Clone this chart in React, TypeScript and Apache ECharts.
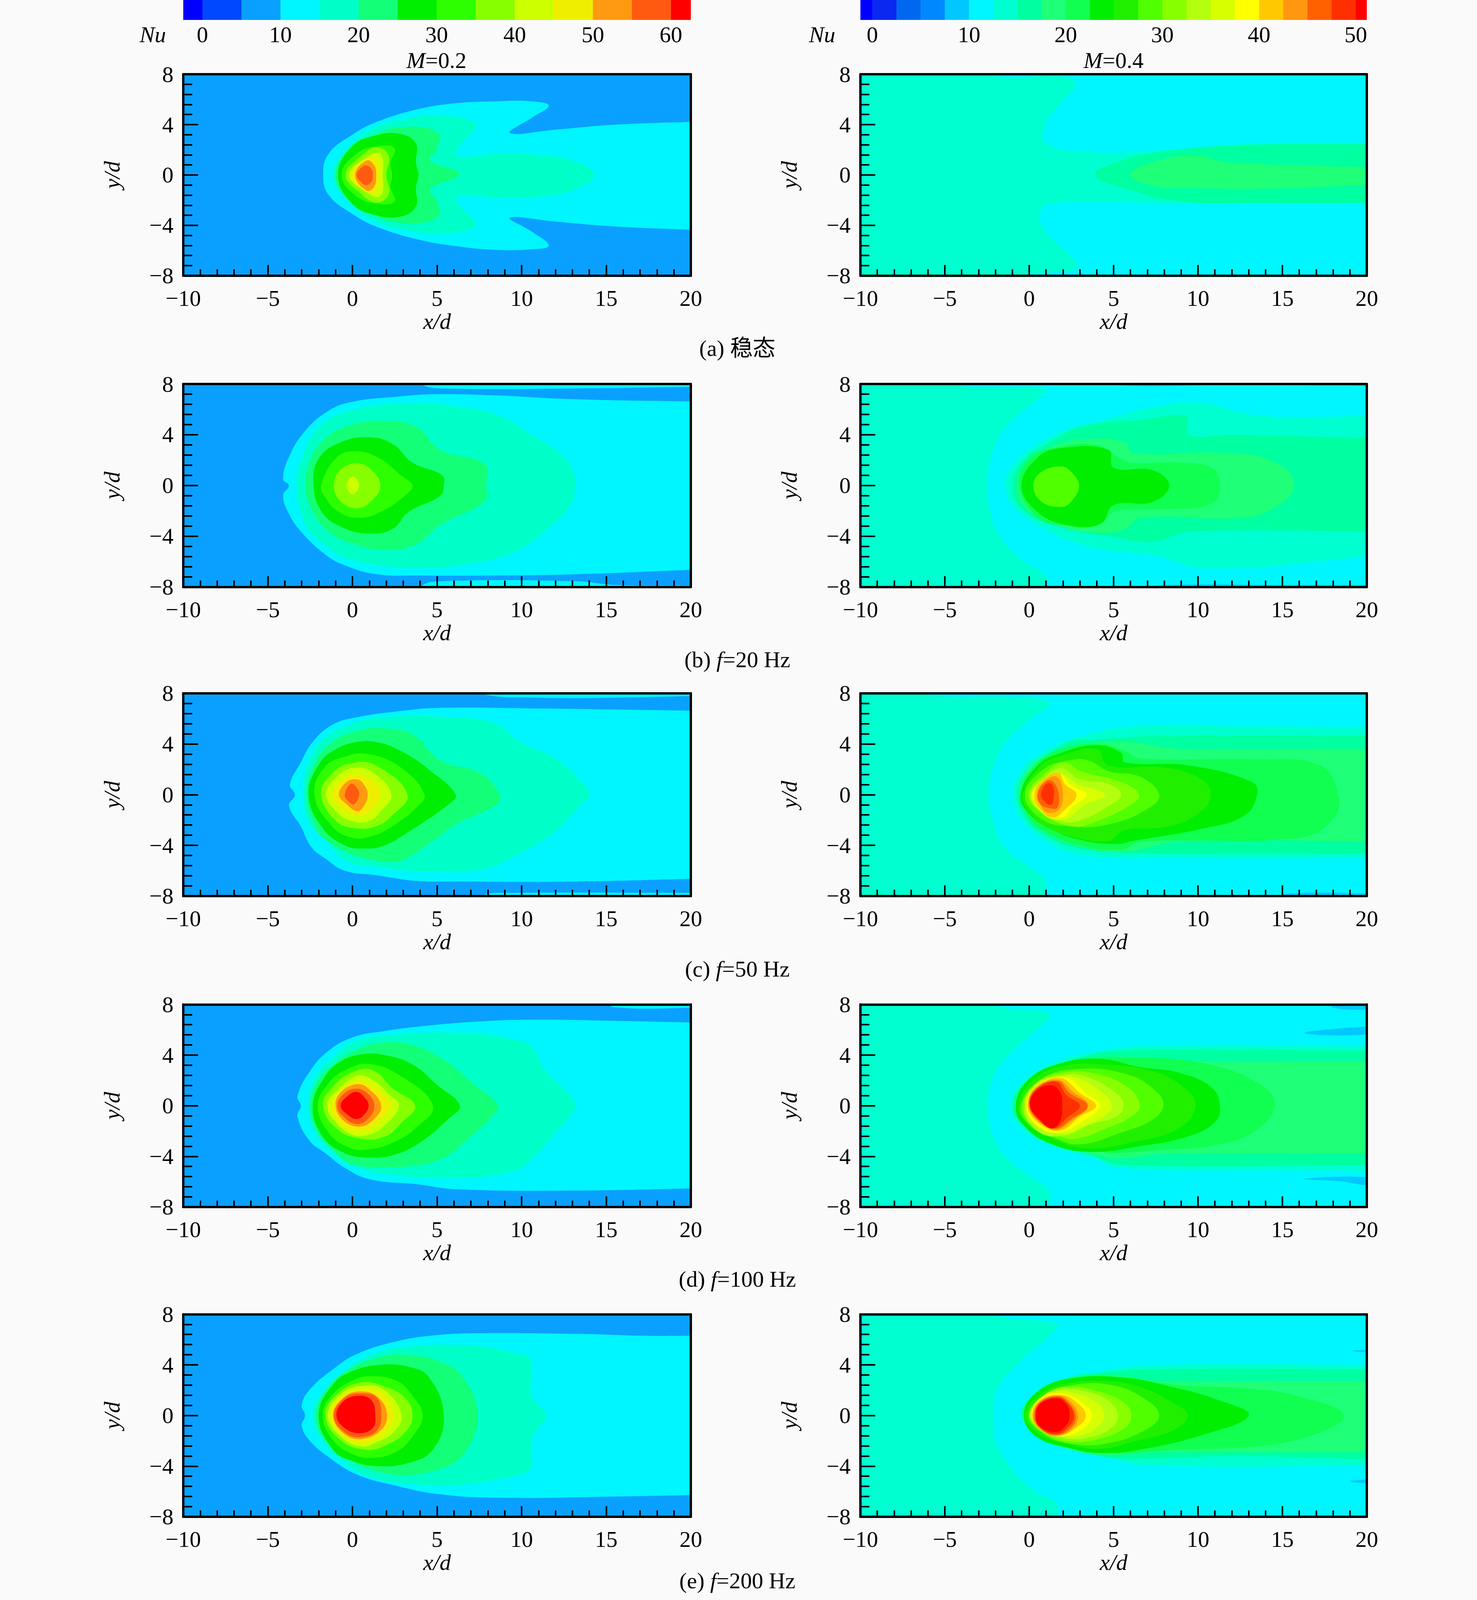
import React, { useEffect, useRef } from "react";
import * as echarts from "echarts";

type Pt = [number, number];
type Layer = [number, Pt[]];

const X_TICK_RANGE: Pt = [-10, 20];
const Y_TICK_RANGE: Pt = [-8, 8];

// Colour bars: level edges and the colour of each band
const EDGES_L = [-2.45, 0, 5, 10, 15, 20, 25, 30, 35, 40, 45, 50, 55, 60, 62.55];
const COLORS_L = ["#0000ff", "#0048ff", "#0aa0ff", "#00f6ff", "#00ffc8", "#14ff78", "#00ee00", "#2dff00", "#88ff00", "#ccff00", "#f0ee00", "#ff9a10", "#ff5a10", "#ff0000"];
const TICKS_L = [0, 10, 20, 30, 40, 50, 60];
const EDGES_R = [-1.23, 0, 2.5, 5, 7.5, 10, 12.5, 15, 17.5, 20, 22.5, 25, 27.5, 30, 32.5, 35, 37.5, 40, 42.5, 45, 47.5, 50, 51.14];
const COLORS_R = ["#0000ff", "#0a28f0", "#0068f0", "#0088ff", "#00c8ff", "#00f6ff", "#00ffd0", "#00ffa0", "#20ff78", "#10ff50", "#00ee00", "#20f000", "#50ff00", "#88ff00", "#b4ff10", "#d8ff00", "#ffff00", "#ffc800", "#ff9810", "#ff6000", "#ff3000", "#ff0000"];
const TICKS_R = [0, 10, 20, 30, 40, 50];

const R: Pt[] = [[-11, -9], [21, -9], [21, 9], [-11, 9]];

// Contour outlines, in (x/d, y/d); first number = lower Nu of the band
const a1: Layer[] = [
  [5, R],
  [10, [[-1.73, 0], [-1.4, 1.7], [0, 3.2], [1.4, 4.2], [3.8, 5.2], [6.1, 5.7], [8.5, 5.85], [10.6, 5.85], [11.6, 5.5], [10.6, 4.55], [9.3, 3.33], [12, 3.6], [15.6, 4], [21, 4.25], [21, -4.4], [15.6, -4.1], [12, -3.7], [9.3, -3.4], [10.6, -4.5], [11.6, -5.6], [10.6, -5.9], [8.5, -5.95], [6.1, -5.65], [3.8, -5.1], [1.4, -4.1], [0, -3.1], [-1.4, -1.6]]],
  [15, [[-1.15, 0], [0, 2.5], [1.4, 3.8], [3.3, 4.5], [5.2, 4.75], [7.2, 4.2], [7.2, 3.6], [6.3, 2.3], [6.2, 1.5], [8.5, 1.7], [10.9, 1.6], [13, 1.15], [14.3, 0], [13, -1.2], [10.9, -1.75], [8.5, -1.8], [6.2, -1.65], [6.3, -2.4], [7.2, -3.6], [7.2, -4.2], [5.2, -4.7], [3.3, -4.4], [1.4, -3.7], [0, -2.4]]],
  [20, [[-1, 0], [-0.2, 2.1], [1, 3.05], [2.9, 3.8], [5, 3.4], [5, 2.1], [4.6, 1.15], [6.3, 0.1], [4.6, -1.15], [5, -2.1], [5, -3.4], [2.9, -3.8], [1, -3.05], [-0.2, -2.1]]],
  [25, [[-0.85, 0], [0, 2.3], [1.4, 3.15], [2.85, 3.25], [3.75, 2.5], [3.75, 1], [3.9, 0], [3.75, -1], [3.75, -2.5], [2.85, -3.3], [1.4, -3.2], [0, -2.3]]],
  [30, [[-0.65, 0], [0.25, 1.7], [1.55, 2.3], [2.5, 2.1], [2.25, 0.95], [2.35, 0], [2.25, -0.95], [2.5, -2.1], [1.55, -2.3], [0.25, -1.7]]],
  [35, [[-0.4, 0], [0.5, 1.5], [1.45, 2.2], [2.15, 1.5], [2, 0], [2.15, -1.5], [1.45, -2.2], [0.5, -1.5]]],
  [40, [[-0.2, 0], [0.75, 1.3], [1.65, 1.7], [1.8, 0], [1.65, -1.7], [0.75, -1.3]]],
  [45, [[-0.05, 0], [0.6, 1.15], [1.3, 1.4], [1.6, 0], [1.3, -1.4], [0.6, -1.15]]],
  [50, [[0.15, 0], [0.85, 1.15], [1.3, 0.75], [1.4, 0], [1.3, -0.9], [0.85, -1.25]]],
  [55, [[0.25, 0], [0.5, 0.55], [0.85, 0.75], [1.15, 0.4], [1.2, 0], [1.15, -0.45], [0.85, -0.8], [0.5, -0.55]]],
];
const a2: Layer[] = [
  [12.5, R],
  [10, [[-2, 8.5], [-2, 7.85], [2, 7.85], [2.75, 7.25], [1.75, 5.55], [0.95, 4], [1, 2.5], [3.75, 1.8], [8.3, 2], [13.5, 2.5], [21, 2.55], [21, 8.5]]],
  [10, [[21, -2.27], [9.3, -2.27], [1.25, -2.27], [0.6, -3.2], [1, -4.55], [2.75, -6.85], [2.75, -7.5], [0, -7.9], [-1, -8.5], [21, -8.5]]],
  [15, [[3.9, 0], [5.5, 1.15], [8.4, 1.95], [13.5, 2.4], [21, 2.45], [21, -2.2], [14, -2.2], [9, -2.1], [6, -1.2]]],
  [17.5, [[6, 0], [7.3, 1], [9.8, 1.55], [11.8, 1], [21, 0.6], [21, -0.75], [13.2, -1.1], [9.3, -1], [7.5, -0.9]]],
];
const b1: Layer[] = [
  [5, R],
  [10, [[4.1, 7.95], [5.4, 7.65], [13.2, 7.65], [21, 7.8], [21, 8.5], [4.1, 8.5]]],
  [10, [[4.1, -7.9], [5.2, -7.55], [13.2, -7.55], [15.6, -7.85], [21, -7.9], [21, -8.5], [4.1, -8.5]]],
  [10, [[-3.75, 0], [-4.1, 0.5], [-3.75, 2.25], [-2.8, 4.3], [-1.4, 5.9], [0, 6.6], [2.6, 7], [5, 7.2], [8.5, 7.1], [13.2, 6.8], [21, 6.6], [21, -6.6], [13.2, -7], [8.5, -7.1], [3.8, -7.1], [1.4, -7], [-0.45, -6.3], [-1.6, -5.45], [-3, -3.7], [-3.75, -2.25], [-4.1, -0.8]]],
  [15, [[-3.3, 0], [-3, 2.1], [-1.9, 4.7], [0, 5.95], [3.1, 6.5], [6.15, 6.25], [8.75, 5.45], [10.4, 4.15], [12.5, 2.25], [13.15, 0.65], [13.15, 0], [13, -1.25], [12, -2.85], [9.45, -5.3], [6.15, -6.3], [3.8, -6.5], [0, -5.9], [-1.9, -4.4], [-2.8, -3]]],
  [20, [[-2.75, 0], [-2.55, 1.8], [-1.6, 3.7], [0, 4.8], [1.9, 5.1], [3.8, 4.6], [5.2, 2.8], [7.8, 1.7], [7.9, 0], [7.8, -1.25], [5.2, -3.1], [3.8, -4.6], [2.15, -5.1], [0, -4.6], [-1.6, -3.4], [-2.55, -1.5]]],
  [25, [[-2.3, 0], [-2, 2.1], [-0.7, 3.4], [1, 3.8], [2.4, 3.25], [3.55, 1.8], [5.3, 0.8], [5.4, 0], [5.2, -0.8], [3.3, -2.1], [2.4, -3.4], [1, -3.8], [-0.7, -3.25], [-1.85, -2]]],
  [30, [[-1.85, 0], [-0.9, 2.25], [0.25, 2.7], [1.65, 2.1], [2.85, 0.8], [3.55, 0], [3.1, -0.8], [1.65, -2.1], [0.25, -2.55], [-0.9, -2], [-1.6, -0.95]]],
  [35, [[-1.1, 0], [-0.7, 1.25], [0.25, 1.75], [1.1, 1.25], [1.65, 0], [1.1, -1.25], [0.25, -1.8], [-0.7, -1.25]]],
  [40, [[-0.35, 0], [0, 0.7], [0.4, 0], [0, -0.7]]],
];
const b2: Layer[] = [
  [12.5, R],
  [10, [[-4.25, 8.5], [-4.25, 7.9], [1, 7.6], [0.7, 7.05], [-0.5, 5.75], [-1.8, 3.85], [-2.35, 1.65], [-2.5, 0], [-2.35, -1.85], [-1.8, -3.9], [-0.5, -5.8], [1, -7.2], [1, -8.5], [21, -8.5], [21, 8.5]]],
  [7.5, [[5, 8.5], [5, 7.92], [12, 7.92], [21, 7.85], [21, 8.5]]],
  [7.5, [[7, -8.5], [7, -7.93], [16, -7.85], [21, -7.85], [21, -8.5]]],
  [12.5, [[-1.4, 0], [-0.95, 1.65], [0.5, 3.25], [2.35, 4.45], [4.25, 5.1], [7.1, 6.1], [9.9, 6.55], [13.7, 5.5], [21, 5.5], [21, -5.5], [10.6, -6.55], [7.3, -5.5], [4.25, -5.05], [2.35, -4.3], [0.5, -3.15], [-0.95, -1.55]]],
  [15, [[-1, 0], [-0.45, 1.8], [1.4, 3.55], [3.3, 4.7], [6.6, 5.15], [9.3, 5.45], [9.45, 4], [12, 4], [21, 3.7], [21, -3.65], [9.45, -3.65], [7.3, -4.45], [4.7, -4], [1.9, -3.3], [-0.45, -1.85]]],
  [17.5, [[-0.7, 0], [-0.25, 1.65], [1.4, 3.1], [3.8, 3.7], [5.65, 3.4], [6.15, 2.55], [11.8, 2.55], [14.6, 1.8], [15.7, 0], [14.4, -1.85], [12.5, -2.55], [6.6, -2.55], [5.65, -3.45], [3.8, -3.7], [1.4, -3], [-0.25, -1.7]]],
  [20, [[-0.6, 0], [0, 2.1], [1.6, 3], [4, 3.2], [5.2, 2.3], [6, 1.8], [9, 1.8], [10.85, 1.35], [11.3, 0], [10.85, -1.4], [8.5, -1.85], [5.9, -1.85], [5, -2.1], [4, -3.2], [2.1, -3.15], [0.5, -2.55]]],
  [22.5, [[-0.45, 0], [0.5, 2.2], [1.9, 2.95], [4.7, 2.8], [5, 1.4], [7.3, 1.2], [8.3, 0], [7.3, -1.3], [5, -1.55], [4.25, -3], [2.35, -3.15], [0.5, -2.1]]],
  [27.5, [[0.25, 0], [0.7, 1.05], [1.9, 1.5], [2.5, 1.05], [2.95, 0], [2.5, -1.25], [1.9, -1.7], [0.7, -1.25]]],
];
const c1: Layer[] = [
  [5, R],
  [10, [[7.8, 7.9], [10.85, 7.65], [15.55, 7.65], [21, 7.8], [21, 8.5], [7.8, 8.5]]],
  [10, [[7.8, -7.9], [9.4, -7.75], [21, -7.75], [21, -8.5], [7.8, -8.5]]],
  [10, [[-3.4, 0], [-3.7, 0.8], [-3.05, 2.55], [-2.35, 4.15], [-1.2, 5.5], [0.25, 6.1], [2.85, 6.6], [5.2, 6.85], [10.85, 6.8], [21, 6.6], [21, -6.6], [13.2, -6.85], [6.1, -6.85], [3.75, -6.8], [1.4, -6.35], [-0.45, -6], [-1.65, -5], [-2.45, -4.1], [-3.05, -2.5], [-3.75, -0.9]]],
  [15, [[-2.9, 0], [-2.6, 2.55], [-1.65, 4.45], [0, 5.6], [1.65, 6.1], [6.1, 6.1], [8.5, 5.6], [9.9, 4.15], [12, 2.85], [13.55, 1], [14, 0], [13.4, -0.9], [11.8, -3.1], [9.2, -5.1], [7.8, -5.85], [4.95, -6.1], [1.4, -5.7], [-0.45, -5.15], [-1.65, -3.5], [-2.6, -2.1]]],
  [20, [[-2.7, 0], [-2.25, 2.45], [-1.2, 4.15], [0.25, 5], [1.65, 5.25], [3.55, 4.75], [5.2, 2.7], [7.55, 1.7], [8.7, 0], [8.5, -0.8], [6.1, -2.35], [4.7, -3.7], [2.85, -5.2], [1.4, -5.2], [0, -4.7], [-1.65, -3.5], [-2.25, -2.4]]],
  [25, [[-2.6, 0], [-1.9, 2.55], [-0.95, 3.6], [0.25, 4.15], [1.4, 4.15], [2.85, 3.45], [4.5, 2], [6.1, 0], [5.65, -0.8], [3.3, -2.95], [1.9, -4], [0.7, -4.25], [-0.45, -4], [-1.75, -2.65]]],
  [30, [[-2.25, 0], [-1.65, 2.15], [-0.45, 3], [0.95, 3.2], [2.85, 2.15], [4.25, 0], [3.75, -1.05], [2.35, -2.5], [1.2, -3.25], [0, -3.4], [-1.2, -2.5]]],
  [35, [[-1.85, 0], [-1.2, 1.7], [0, 2.5], [1.4, 2.3], [3.25, 0], [2.35, -1.65], [1.4, -2.5], [0.25, -2.65], [-0.95, -2.1]]],
  [40, [[-1.55, 0], [-0.95, 1.4], [0.25, 2.15], [1.4, 1.55], [2.3, 0], [1.65, -1.35], [0.95, -2.1], [0, -2.1], [-0.95, -1.35]]],
  [45, [[-1.2, 0], [-0.7, 1.1], [0.25, 1.6], [1.2, 1.1], [1.65, 0], [1.3, -0.9], [0.6, -1.65], [-0.35, -1.35], [-0.9, -0.7]]],
  [50, [[-0.8, 0], [-0.35, 1], [0.25, 1.2], [0.65, 0.85], [0.9, 0], [0.6, -1.05], [0.25, -1.3], [-0.35, -0.75]]],
  [55, [[-0.45, 0], [-0.1, 0.85], [0.25, 0.55], [0.4, 0], [0.1, -0.75], [-0.25, -0.5]]],
];
const c2: Layer[] = [
  [12.5, R],
  [10, [[-6.15, 8.5], [-6.15, 7.85], [-0.25, 7.65], [1.2, 7.2], [0, 5.9], [-1.4, 4.15], [-2.1, 2.3], [-2.4, 0], [-2.1, -2.2], [-1.4, -4.25], [0, -5.7], [0.95, -6.75], [0.95, -8.5], [21, -8.5], [21, 8.5]]],
  [7.5, [[15, -8.5], [15, -7.85], [21, -7.8], [21, -8.5]]],
  [12.5, [[-0.95, 0], [-0.5, 1.85], [0.7, 3.3], [3.05, 4.6], [6.4, 5.4], [13, 5.4], [21, 5.3], [21, -5], [8.5, -5], [2.85, -4.7], [0.7, -3.4], [-0.5, -1.8]]],
  [15, [[-0.7, 0], [-0.25, 1.7], [0.95, 3], [2.35, 4.15], [4, 4.35], [7, 4.6], [21, 4.65], [21, -4.6], [6, -4.6], [2.85, -4.2], [0.95, -3.2], [-0.25, -1.8]]],
  [17.5, [[-0.6, 0], [0, 2.1], [1.4, 3.3], [3.3, 4], [5.65, 4.15], [9, 3.6], [16, 3.6], [21, 3.6], [21, -3.7], [9, -3.7], [5.45, -4.5], [3.05, -4.1], [0.95, -3], [0, -1.8]]],
  [20, [[-0.55, 0], [0.5, 2.55], [2.35, 3.75], [4.25, 4], [5.65, 3.45], [6.6, 2.85], [13.5, 2.8], [17.25, 2.3], [18.3, 0], [18, -1.95], [16, -3.4], [6.6, -3.7], [5.45, -4.35], [3.05, -4], [0.95, -2.95], [0, -1.8]]],
  [22.5, [[-0.5, 0], [0.5, 2.3], [1.9, 3.3], [4, 3.9], [5.45, 3.3], [5.65, 2.55], [9.45, 2.3], [13.2, 1], [13.5, 0], [12.75, -1.65], [10.4, -2.65], [6.15, -3.65], [5.2, -3.9], [3.3, -3.65], [1.4, -2.8], [0, -1.5]]],
  [25, [[-0.4, 0], [0.7, 2.3], [2.1, 3.15], [4, 3.6], [4.7, 2.3], [8, 2.15], [10.15, 1.25], [10.75, 0], [10.15, -1.35], [8.25, -2.5], [5.65, -2.8], [4.7, -3.65], [2.85, -3.4], [0.95, -2.5], [0, -1.35]]],
  [27.5, [[-0.25, 0], [0.85, 2], [2.35, 2.7], [3.5, 2.7], [4.7, 1.85], [6.6, 1.4], [7.7, 0], [7.1, -1.05], [4.7, -2.35], [2.35, -2.5], [0.7, -1.9]]],
  [30, [[-0.05, 0], [0.95, 1.7], [2.1, 2.55], [3.05, 1.85], [5.45, 1], [6.5, 0], [5.9, -0.9], [3.8, -2.2], [2.6, -2.5], [0.95, -1.65]]],
  [32.5, [[0.05, 0], [0.95, 1.4], [1.9, 2.1], [2.95, 1.25], [4.7, 0.85], [5.45, 0], [4.7, -0.9], [2.85, -2.1], [1.9, -2.1], [0.7, -1.35]]],
  [35, [[0.1, 0], [0.95, 1.25], [1.75, 1.7], [2.85, 0.85], [4.5, 0], [3.3, -0.8], [2.35, -1.8], [1.4, -1.95], [0.5, -1.05]]],
  [37.5, [[0.2, 0], [0.95, 1.1], [1.75, 1.7], [2.5, 0.7], [3.4, 0], [2.6, -0.9], [1.9, -1.8], [0.95, -1.2]]],
  [40, [[0.3, 0], [0.85, 1.2], [1.75, 1.7], [2.1, 0.85], [2.8, 0], [2.1, -1.2], [1.4, -1.8], [0.7, -1.2]]],
  [42.5, [[0.45, 0], [0.85, 1], [1.65, 1.4], [2, 0], [1.75, -1.2], [1.05, -1.4], [0.7, -0.9]]],
  [45, [[0.5, 0], [0.95, 1], [1.4, 1.05], [1.75, 0], [1.65, -1.05], [1.2, -1.05], [0.7, -0.8]]],
  [47.5, [[0.7, 0], [1.05, 0.9], [1.4, 0.7], [1.45, -0.35], [1.3, -0.8], [0.95, -0.6]]],
];
const d1: Layer[] = [
  [5, R],
  [10, [[15.35, 7.8], [21, 7.75], [21, 8.5], [15.35, 8.5]]],
  [10, [[-3.05, 0], [-3.25, 0.75], [-2.55, 2.65], [-1.5, 4.25], [0, 5.4], [1.9, 5.9], [4.25, 6.3], [7.35, 6.65], [10.85, 6.8], [15.6, 6.7], [21, 6.55], [21, -6.5], [13.2, -6.7], [6.15, -6.6], [3.8, -6.2], [1, -5.8], [-0.45, -4.9], [-1.6, -3.75], [-2.55, -2.75], [-3.25, -0.85]]],
  [15, [[-2.6, 0], [-2.2, 2.2], [-1.15, 3.8], [0, 5], [1.9, 5.55], [7.1, 5.75], [9.45, 5.25], [10.6, 4.7], [11.3, 2.95], [13, 0.6], [13.15, 0], [13, -0.55], [11.8, -2.45], [10.6, -4.2], [9.45, -5.2], [6.15, -5.7], [2.6, -5.5], [0, -4.75], [-1.15, -3.75], [-2.2, -2.15]]],
  [20, [[-2.5, 0], [-2, 2.05], [-0.9, 3.5], [0.25, 4.4], [1.9, 5], [3.8, 4.7], [5.7, 3.35], [6.85, 2.05], [8.6, 0], [8.25, -0.85], [7.1, -2.3], [5.45, -4.05], [3.8, -4.7], [1.45, -4.85], [-0.2, -4.5], [-1.15, -3.45], [-2, -2.15]]],
  [25, [[-2.35, 0], [-1.6, 2.35], [-0.7, 3.5], [0.5, 4.05], [1.9, 4], [3.55, 3.25], [5, 1.65], [6.35, 0], [5.7, -1], [4, -2.9], [2.4, -3.9], [0.95, -4.1], [-0.45, -3.75], [-1.75, -2.45]]],
  [30, [[-2.05, 0], [-1.4, 1.8], [-0.45, 2.8], [0.95, 3.3], [2.85, 2.35], [4.75, 0], [3.8, -1.7], [2.4, -2.9], [0.95, -3.45], [-0.2, -3.3], [-1.4, -2.15]]],
  [35, [[-1.75, 0], [-1.15, 1.5], [0, 2.65], [1.2, 2.8], [2.4, 1.35], [3.7, 0], [2.85, -1.4], [1.9, -2.45], [0.5, -2.6], [-0.9, -1.85]]],
  [40, [[-1.5, 0], [-0.9, 1.2], [0.25, 2.35], [1.2, 2.05], [2.15, 0.9], [2.75, 0], [1.9, -1.55], [0.95, -2.3], [0, -2.3], [-0.9, -1.4]]],
  [45, [[-1.25, 0], [-0.7, 1.2], [0.25, 1.9], [1.2, 1.6], [1.9, 0.75], [2.25, 0], [1.45, -1.4], [0.6, -2], [-0.2, -1.85], [-0.9, -1.15]]],
  [50, [[-1, 0], [-0.7, 1.05], [0.25, 1.7], [0.95, 1.35], [1.7, 0], [1.2, -1.15], [0.4, -1.65], [-0.55, -1.15]]],
  [55, [[-0.9, 0], [-0.55, 0.9], [0.25, 1.35], [0.95, 0.9], [1.3, 0], [0.95, -1], [0.25, -1.45], [-0.55, -0.85]]],
  [60, [[-0.7, 0], [-0.3, 0.75], [0.25, 1.1], [0.75, 0.6], [0.95, 0], [0.7, -0.7], [0.25, -1.05], [-0.3, -0.7]]],
];
const d2: Layer[] = [
  [12.5, R],
  [10, [[-1.7, 8.5], [-1.7, 7.8], [1.15, 7.25], [0.4, 5.95], [-1.2, 4.05], [-2.15, 2.2], [-2.45, 0], [-2.15, -2.3], [-1.45, -3.95], [-0.05, -5.5], [1.15, -6.7], [1.15, -8.5], [21, -8.5], [21, 8.5]]],
  [7.5, [[16.3, 5.75], [18.3, 6.1], [20, 6.25], [21, 6.3], [21, 5.7], [18.3, 5.55]]],
  [7.5, [[16.3, -5.8], [18.3, -5.95], [20, -6.3], [21, -6.4], [21, -5.7], [18.3, -5.6]]],
  [7.5, [[18, 8.5], [18, 7.75], [21, 7.6], [21, 8.5]]],
  [12.5, [[-1.1, 0], [-0.5, 1.75], [1.35, 3.35], [3.7, 4.2], [7.25, 4.75], [21, 4.7], [21, -5.15], [15.25, -5.1], [5.35, -4.9], [3.7, -4.1], [1.35, -3.2], [-0.5, -1.75]]],
  [15, [[-1, 0], [-0.3, 1.75], [1.35, 3.05], [3.7, 4.05], [5.35, 4.35], [21, 4.35], [21, -4.7], [5.35, -4.65], [3.7, -3.9], [1.35, -2.9], [-0.3, -1.6]]],
  [17.5, [[-0.85, 0], [-0.2, 1.75], [1.35, 3], [3.5, 3.7], [6.05, 3.85], [9.85, 3.5], [21, 3.5], [21, -3.8], [8, -3.8], [5.35, -4.15], [3.5, -3.75], [1.35, -2.85], [-0.2, -1.6]]],
  [20, [[-0.8, 0], [-0.1, 1.75], [1.35, 3], [3.5, 3.7], [6.05, 3.8], [10.3, 3.35], [13.6, 1.75], [14.55, 0], [13.35, -2], [11.25, -3.05], [7.7, -3.5], [4.2, -3.65], [1.35, -2.6], [-0.1, -1.6]]],
  [22.5, [[-0.8, 0], [-0.05, 2.05], [1.85, 3.35], [4.2, 3.7], [6.55, 3.05], [8.9, 2.6], [10.8, 1.45], [11.3, 0], [11, -1.3], [9.35, -2.45], [6.55, -3.2], [3.7, -3.65], [1.35, -3.05], [-0.3, -1.6]]],
  [25, [[-0.65, 0], [0.4, 2.2], [2.3, 3.2], [4.45, 3.25], [7.25, 2.75], [9.15, 1.45], [9.85, 0], [8.9, -1.75], [6.05, -2.9], [3.25, -3.35], [1.35, -2.6], [-0.05, -1.45]]],
  [27.5, [[-0.5, 0], [0.65, 2.05], [2.8, 2.9], [5.85, 2.45], [7.5, 1.15], [7.95, 0], [7.25, -1.15], [5.6, -2.05], [3, -3.05], [1.35, -2.45], [0.05, -1.6]]],
  [30, [[-0.4, 0], [0.4, 1.75], [1.85, 2.6], [3.7, 2.6], [5.85, 1.45], [6.55, 0], [6.05, -0.85], [4.65, -1.75], [2.8, -2.6], [1.6, -2.35], [0.2, -1.6]]],
  [32.5, [[-0.3, 0], [0.4, 1.75], [1.85, 2.4], [3.25, 2.35], [5.15, 1], [5.6, 0], [5.15, -0.85], [3.7, -1.45], [1.85, -2.4], [0.4, -1.9]]],
  [35, [[-0.25, 0], [0.5, 1.8], [1.6, 2.2], [2.55, 2.35], [4.2, 1.15], [4.9, 0], [4.4, -0.85], [3.5, -1.45], [2.05, -2.2], [0.65, -1.75]]],
  [37.5, [[-0.15, 0], [0.9, 1.9], [2.2, 2.2], [3.5, 0.85], [4.2, 0], [3.25, -1.15], [1.85, -2.05], [0.65, -1.75]]],
  [40, [[-0.1, 0], [0.65, 1.6], [1.85, 2.2], [3, 1], [3.95, 0], [3, -0.85], [1.85, -1.95], [0.65, -1.45]]],
  [42.5, [[-0.05, 0], [0.4, 1.45], [1.7, 2.05], [2.55, 1.15], [3.5, 0], [2.55, -1.15], [1.6, -1.9], [0.65, -1.3]]],
  [45, [[0, 0], [0.4, 1.3], [1.7, 1.95], [2.4, 1], [3.45, 0], [2.4, -1.15], [1.6, -1.8], [0.65, -1.3]]],
  [47.5, [[0.05, 0], [0.4, 1.3], [1.6, 1.9], [2.2, 0.85], [3, 0], [2.2, -1], [1.5, -1.75], [0.65, -1.15]]],
  [50, [[0.05, 0], [0.4, 1.15], [1.35, 1.6], [1.85, 1], [1.95, 0], [1.85, -1.15], [1.35, -1.8], [0.65, -1.15]]],
];
const e1: Layer[] = [
  [5, R],
  [10, [[-2.8, 0], [-3, 0.8], [-2.55, 2], [-1.15, 3.65], [0.25, 4.85], [2.6, 5.85], [5, 6.35], [7.55, 6.5], [13.2, 6.45], [17.2, 6.3], [21, 6.3], [21, -6.25], [15.6, -6.4], [8.5, -6.5], [5, -6.2], [2.6, -5.55], [0.25, -4.65], [-1.4, -3.3], [-2.55, -1.95], [-3, -0.8]]],
  [15, [[-2.35, 0], [-1.65, 2], [-0.45, 3.5], [0.95, 4.7], [3.3, 5.45], [7.35, 5.5], [9.45, 5], [10.5, 4.4], [10.6, 1.55], [11.45, 0], [11, -1], [10.6, -1.8], [10.5, -4.2], [9.45, -4.8], [6.15, -5.5], [3.3, -5.4], [0.95, -4.8], [-0.45, -3.75], [-1.65, -2.25]]],
  [20, [[-2.15, 0], [-1.4, 2.3], [0, 3.8], [1.45, 4.55], [3.1, 4.8], [5.2, 4.25], [6.5, 3.05], [7.4, 0], [6.6, -3], [5.2, -4.2], [2.85, -4.7], [0.95, -4.2], [-0.2, -3.45], [-1.5, -2.1]]],
  [25, [[-2, 0], [-1.15, 2.45], [0, 3.5], [1.65, 4], [3.3, 3.85], [4.5, 3.05], [5.4, 0], [4.75, -2.7], [3.3, -3.75], [1.45, -4], [0, -3.6], [-1.15, -2.7]]],
  [30, [[-1.75, 0], [-1.15, 1.7], [0, 2.75], [0.95, 3.1], [2.6, 2.75], [3.55, 1.55], [4.15, 0], [3.55, -1.65], [2.6, -2.85], [1.2, -3.35], [0, -3.05], [-1.15, -1.95]]],
  [35, [[-1.6, 0], [-0.9, 1.7], [0.5, 2.6], [1.9, 2.3], [3.1, 1.4], [3.55, 0], [3.1, -1.35], [1.9, -2.4], [0.75, -2.7], [-0.7, -1.95]]],
  [40, [[-1.45, 0], [-0.7, 1.7], [0.6, 2.35], [1.9, 2], [2.9, 0], [2.4, -1.35], [1.45, -2.1], [0.5, -2.45], [-0.7, -1.65]]],
  [45, [[-1.3, 0], [-0.7, 1.4], [0.5, 2.05], [1.8, 1.7], [2.4, 0], [1.9, -1.35], [0.75, -2.15], [-0.45, -1.65]]],
  [50, [[-1.15, 0], [-0.55, 1.4], [0.5, 1.9], [1.55, 1.4], [2.05, 0], [1.65, -1.2], [0.6, -1.85], [-0.45, -1.5]]],
  [55, [[-1.1, 0], [-0.45, 1.4], [0.5, 1.75], [1.45, 1.4], [1.7, 0], [1.45, -1.2], [0.5, -1.7], [-0.45, -1.35]]],
  [60, [[-0.95, 0], [-0.55, 1.1], [0.25, 1.55], [1.1, 1.25], [1.35, 0], [1.2, -1], [0.4, -1.4], [-0.45, -1]]],
];
const e2: Layer[] = [
  [12.5, R],
  [10, [[-1.7, 8.5], [-1.7, 7.8], [1.6, 7.25], [1.35, 6.5], [-0.05, 4.85], [-1.45, 3], [-2.05, 1.5], [-2.1, 0], [-2.05, -1.8], [-1, -4.25], [0.4, -6.05], [1.6, -6.95], [1.6, -8.5], [21, -8.5], [21, 8.5]]],
  [7.5, [[19.15, 5.1], [20, 5.2], [21, 5.25], [21, 5], [20, 5]]],
  [7.5, [[19, -5.2], [20, -5.05], [21, -5], [21, -5.25], [20, -5.35]]],
  [12.5, [[-0.5, 0], [0.2, 1.4], [1.35, 2.4], [3.7, 3.35], [7.5, 4], [21, 4], [21, -3.95], [7, -3.95], [4.9, -3.4], [2.3, -2.7], [0.65, -1.8]]],
  [15, [[-0.45, 0], [0.4, 1.8], [2.3, 3], [4.2, 3.4], [7.7, 3.65], [21, 3.65], [21, -3.5], [12.4, -3.2], [5.35, -3.4], [3.25, -2.85], [1.15, -2]]],
  [17.5, [[-0.4, 0], [0.4, 1.65], [2.3, 2.7], [4.2, 3.2], [8, 2.7], [14.3, 2.7], [21, 2.7], [21, -2.9], [8, -2.9], [4.2, -3.1], [2.3, -2.6], [0.6, -1.7]]],
  [20, [[-0.35, 0], [0.4, 1.7], [2.3, 2.8], [4.2, 3.15], [8.9, 2.4], [13.15, 2.1], [16, 1.5], [18.65, 0], [16.9, -1.5], [13.6, -2.4], [8.9, -2.7], [4.2, -3], [2.3, -2.55], [0.5, -1.65]]],
  [22.5, [[-0.3, 0], [0.4, 1.8], [2.3, 2.9], [5.6, 3], [8, 2.4], [11.25, 1.2], [13, 0], [10.35, -1.5], [6.55, -2.7], [4.2, -2.95], [2.3, -2.55], [0.4, -1.65]]],
  [25, [[-0.25, 0], [0.65, 1.65], [2.3, 2.55], [4.7, 2.7], [6.55, 2.25], [8.45, 1.05], [9.4, 0], [8.45, -1.2], [6.05, -2.1], [4.2, -2.65], [2.3, -2.25], [0.65, -1.5]]],
  [27.5, [[-0.05, 0], [0.9, 1.65], [2.55, 2.4], [4.9, 2.4], [6.8, 1.35], [7.7, 0], [6.8, -1.2], [4.65, -2.2], [2.55, -2.25], [0.9, -1.5]]],
  [30, [[0, 0], [0.9, 1.65], [2.3, 2.25], [3.95, 1.95], [5.6, 1.05], [6.05, 0], [5.6, -1.05], [3.95, -1.9], [2.3, -2.05], [0.9, -1.4]]],
  [32.5, [[0.05, 0], [0.85, 1.5], [1.85, 2.05], [3.25, 1.95], [4.65, 1.2], [5.25, 0], [4.8, -1.05], [3.5, -1.75], [2.05, -1.8], [0.9, -1.2]]],
  [35, [[0.1, 0], [0.65, 1.35], [1.6, 1.95], [2.55, 1.8], [3.95, 1.05], [4.45, 0], [4.05, -0.9], [3.25, -1.5], [2.05, -1.65], [0.9, -1.15]]],
  [37.5, [[0.15, 0], [0.4, 1.05], [1.35, 1.75], [2.2, 1.65], [3.1, 1.05], [3.7, 0], [3, -1.2], [1.85, -1.6], [0.75, -1.1]]],
  [40, [[0.2, 0], [0.65, 1.2], [1.95, 1.6], [2.8, 1.05], [3.35, 0], [2.85, -0.9], [1.7, -1.6], [0.65, -1.05]]],
  [42.5, [[0.2, 0], [0.65, 1.15], [1.65, 1.6], [2.35, 1.2], [2.9, 0], [2.55, -1.05], [1.6, -1.6], [0.65, -1.05]]],
  [45, [[0.3, 0], [0.65, 1.05], [1.7, 1.5], [2.3, 1.05], [2.75, 0], [2.5, -0.9], [1.6, -1.55], [0.65, -1]]],
  [47.5, [[0.35, 0], [0.65, 1], [1.65, 1.45], [2.25, 1], [2.65, 0], [2.35, -0.85], [1.6, -1.45], [0.65, -0.95]]],
  [50, [[0.4, 0], [0.65, 0.9], [1.6, 1.35], [2.2, 0.9], [2.4, 0], [2.2, -0.75], [1.6, -1.3], [0.65, -0.9]]],
];

const PANELS_L = [a1, b1, c1, d1, e1];
const PANELS_R = [a2, b2, c2, d2, e2];
const CAPTIONS = ["(a) 稳态", "(b) {i|f}=20 Hz", "(c) {i|f}=50 Hz", "(d) {i|f}=100 Hz", "(e) {i|f}=200 Hz"];
const CAPTION_Y = [1205, 2282, 3353, 4427, 5470];

// Layout in pixels at the reference's 3780x5537, kept apart from the data
const FULL_HEIGHT = 5537;
const COL_L = { left: 469, width: 1299 };
const COL_R = { left: 2202, width: 1296 };
const ROWS = [
  { top: 257, height: 697 },
  { top: 1329, height: 702 },
  { top: 2399, height: 702 },
  { top: 3476, height: 701 },
  { top: 4548, height: 701 },
];
const FONT = "'Liberation Serif', 'Noto Sans CJK SC', serif";

const minus = (v: number) => String(v).replace("-", "\u2212");

// Vertices beyond the frame are doubled so the smoothing keeps a sharp corner there and does not bulge into the frame
const beyondFrame = (p: Pt) => Math.abs(p[1]) >= 8.2 || p[0] >= 21 || p[0] <= -11;
const withCorners = (pts: Pt[]) => pts.flatMap((p) => (beyondFrame(p) ? [p, p] : [p]));

// k < 1 when the real window is shorter than the reference: the figure is then fitted to it vertically
function buildOption(k: number) {
  const FS = Math.round(65 * (k + (1 - k) * 0.6));
  const labelMargin = k < 1 ? FS / 2 : 16;
  const xNameGap = Math.max(150 * k, 2 * FS) - FS / 2;
  const grid: any[] = [];
  const xAxis: any[] = [];
  const yAxis: any[] = [];
  const series: any[] = [];

  const addPanel = (col: any, row: any, layers: Layer[], edges: number[], colors: string[]) => {
    const g = grid.length;
    grid.push({ left: col.left, top: row.top * k, width: col.width, height: row.height * k, containLabel: false, show: false });
    const xi = xAxis.length;
    const yi = yAxis.length;
    const tick = (len: number) => ({ show: true, inside: true, length: len, lineStyle: { color: "#000", width: 4 } });
    const minor = (len: number) => ({ show: true, splitNumber: 5, length: len, lineStyle: { color: "#000", width: 4 } });
    const line = { show: true, onZero: false, lineStyle: { color: "#000", width: 6 } };
    const label = { color: "#000", fontFamily: FONT, fontSize: FS, formatter: minus, hideOverlap: false, showMinLabel: true, showMaxLabel: true };
    const nameStyle = { color: "#000", fontFamily: FONT, fontSize: FS, fontStyle: "italic" };
    xAxis.push({
      gridIndex: g, type: "value", position: "bottom", min: X_TICK_RANGE[0], max: X_TICK_RANGE[1], interval: 5, z: 5,
      axisLine: line, axisTick: tick(37 * k), minorTick: minor(22 * k), splitLine: { show: false }, minorSplitLine: { show: false },
      axisLabel: { ...label, margin: labelMargin }, name: "x/d", nameLocation: "middle", nameGap: xNameGap, nameTextStyle: nameStyle,
    });
    xAxis.push({
      gridIndex: g, type: "value", position: "top", min: X_TICK_RANGE[0], max: X_TICK_RANGE[1], z: 5,
      axisLine: line, axisTick: { show: false }, axisLabel: { show: false }, splitLine: { show: false },
    });
    yAxis.push({
      gridIndex: g, type: "value", position: "left", min: Y_TICK_RANGE[0], max: Y_TICK_RANGE[1], interval: 4, z: 5,
      axisLine: line, axisTick: tick(38), minorTick: minor(23), splitLine: { show: false }, minorSplitLine: { show: false },
      axisLabel: { ...label, margin: 25 }, name: "y/d", nameLocation: "middle", nameGap: 154, nameTextStyle: nameStyle,
    });
    yAxis.push({
      gridIndex: g, type: "value", position: "right", min: Y_TICK_RANGE[0], max: Y_TICK_RANGE[1], z: 5,
      axisLine: line, axisTick: { show: false }, axisLabel: { show: false }, splitLine: { show: false },
    });
    series.push({
      type: "custom", coordinateSystem: "cartesian2d", xAxisIndex: xi, yAxisIndex: yi, clip: true, silent: true,
      data: layers.map((_, i) => [i]),
      encode: { x: [], y: [] },
      renderItem: (params: any, api: any) => {
        const [lo, pts] = layers[params.dataIndex];
        return {
          type: "polygon",
          shape: { points: withCorners(pts).map((p) => api.coord(p)), smooth: 0.42 },
          style: { fill: colors[edges.indexOf(lo)] },
        };
      },
    });
  };

  ROWS.forEach((row, i) => {
    addPanel(COL_L, row, PANELS_L[i], EDGES_L, COLORS_L);
    addPanel(COL_R, row, PANELS_R[i], EDGES_R, COLORS_R);
  });

  const addBar = (col: any, edges: number[], colors: string[], ticks: number[]) => {
    const g = grid.length;
    grid.push({ left: col.left, top: 0, width: col.width, height: 69 * k, show: false });
    const xi = xAxis.length;
    const yi = yAxis.length;
    xAxis.push({
      gridIndex: g, type: "value", min: edges[0], max: edges[edges.length - 1],
      axisLine: { show: false }, axisTick: { show: false }, splitLine: { show: false },
      axisLabel: { color: "#000", fontFamily: FONT, fontSize: FS, margin: Math.max(4, 50 * k - FS / 2), customValues: ticks, hideOverlap: false },
    });
    yAxis.push({ gridIndex: g, type: "value", min: 0, max: 1, show: false });
    series.push({
      type: "custom", coordinateSystem: "cartesian2d", xAxisIndex: xi, yAxisIndex: yi, clip: true, silent: true,
      data: colors.map((_, i) => [i]),
      encode: { x: [], y: [] },
      renderItem: (params: any, api: any) => {
        const i = params.dataIndex;
        const a = api.coord([edges[i], 1]);
        const b = api.coord([edges[i + 1], 0]);
        return { type: "rect", shape: { x: a[0], y: a[1], width: b[0] - a[0] + 0.5, height: b[1] - a[1] }, style: { fill: colors[i] } };
      },
    });
  };
  addBar(COL_L, EDGES_L, COLORS_L, TICKS_L);
  addBar(COL_R, EDGES_R, COLORS_R, TICKS_R);

  const textEl = (text: string, x: number, y: number) => ({
    type: "text", x, y: y * k, silent: true,
    style: {
      text, align: "center", verticalAlign: "middle", fontFamily: FONT, fontSize: FS, fill: "#000",
      rich: { i: { fontStyle: "italic", fontFamily: FONT, fontSize: FS, fill: "#000" } },
    },
  });
  const graphic = [
    textEl("{i|Nu}", 391, 119),
    textEl("{i|Nu}", 2104, 119),
    textEl("{i|M}=0.2", 1117, 209),
    textEl("{i|M}=0.4", 2850, 209),
    ...CAPTIONS.map((c, i) => textEl(c, 1887, CAPTION_Y[i])),
  ];

  return { animation: false, backgroundColor: "#fafafa", grid, xAxis, yAxis, series, graphic };
}

export default function App() {
  const ref = useRef<HTMLDivElement>(null);
  const k = Math.min(1, window.innerHeight / FULL_HEIGHT);
  useEffect(() => {
    document.body.style.margin = "0";
    document.body.style.background = "#fafafa";
    const chart = echarts.init(ref.current!, null, { renderer: "svg" });
    chart.setOption(buildOption(k) as any);
    return () => chart.dispose();
  }, []);
  return <div ref={ref} style={{ width: 3780, height: Math.floor(FULL_HEIGHT * k) }} />;
}
